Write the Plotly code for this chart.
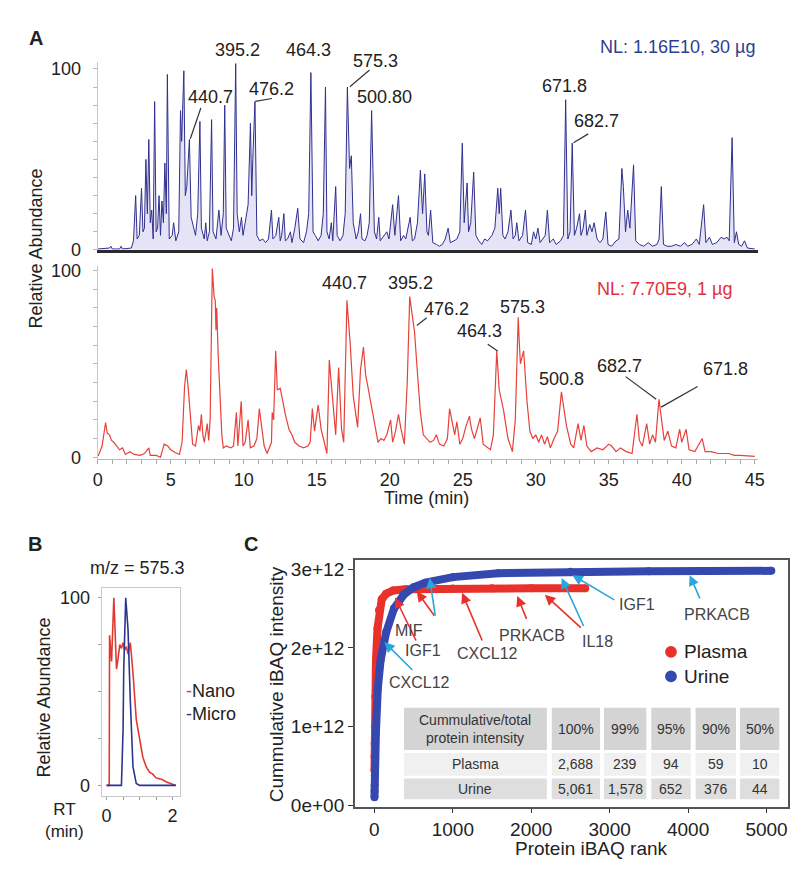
import plotly.graph_objects as go

W, H = 800, 873
FONT = "Liberation Sans, Arial, sans-serif"

# ---------------- DATA ----------------
# Panel A (top): base-peak chromatogram, 30 ug (time min, relative abundance %)
micro_points = [
    (0.0, 0.5), (0.8, 1), (0.9, 2), (1.0, 0.5), (1.5, 0.5), (1.6, 2), (1.7, 0.5), (2.3, 1), (2.45, 5),
    (2.6, 30), (2.7, 6), (2.85, 8), (3.0, 34), (3.1, 10), (3.2, 12), (3.3, 50), (3.4, 20), (3.5, 61),
    (3.6, 15), (3.7, 22), (3.8, 6), (3.9, 82), (4.0, 10), (4.1, 12), (4.2, 30), (4.3, 8), (4.4, 27),
    (4.5, 15), (4.6, 48), (4.7, 20), (4.77, 97), (4.9, 6), (5.1, 8), (5.2, 15), (5.35, 5), (5.55, 10),
    (5.67, 77), (5.75, 60), (5.9, 99), (6.0, 30), (6.1, 35), (6.28, 61), (6.4, 18), (6.6, 10), (6.7, 8),
    (6.85, 20), (7.0, 71), (7.1, 12), (7.3, 6), (7.4, 15), (7.5, 5), (7.65, 10), (7.8, 72), (7.9, 10),
    (8.1, 6), (8.3, 22), (8.45, 8), (8.6, 20), (8.7, 80), (8.8, 12), (9.0, 8), (9.15, 5), (9.3, 12),
    (9.45, 103), (9.55, 20), (9.7, 10), (9.85, 18), (9.95, 8), (10.1, 15), (10.3, 25), (10.46, 70),
    (10.55, 30), (10.62, 50), (10.77, 82), (10.9, 8), (11.1, 5), (11.3, 6), (11.5, 4), (11.7, 6),
    (11.9, 22), (12.0, 6), (12.2, 8), (12.4, 18), (12.5, 5), (12.6, 8), (12.75, 20), (12.85, 5),
    (13.0, 6), (13.2, 10), (13.3, 4), (13.5, 12), (13.7, 23), (13.85, 6), (14.1, 4), (14.3, 10),
    (14.45, 20), (14.6, 98), (14.75, 10), (14.9, 8), (15.1, 5), (15.3, 8), (15.45, 20), (15.6, 90),
    (15.7, 10), (15.85, 6), (16.0, 15), (16.1, 5), (16.3, 35), (16.4, 8), (16.6, 5), (16.8, 8),
    (16.95, 20), (17.1, 90), (17.25, 45), (17.37, 52), (17.5, 15), (17.7, 6), (17.85, 10), (18.0, 20),
    (18.1, 6), (18.3, 5), (18.45, 8), (18.6, 15), (18.76, 77), (18.85, 45), (18.95, 10), (19.1, 6),
    (19.25, 18), (19.35, 5), (19.6, 8), (19.8, 10), (19.95, 6), (20.2, 25), (20.35, 8), (20.6, 30),
    (20.75, 5), (20.95, 8), (21.1, 6), (21.4, 18), (21.55, 5), (21.7, 6), (21.9, 15), (22.1, 44),
    (22.25, 20), (22.4, 42), (22.55, 10), (22.65, 8), (22.8, 22), (22.95, 4), (23.2, 3), (23.4, 2),
    (23.6, 3), (23.8, 6), (24.0, 12), (24.15, 4), (24.4, 5), (24.6, 6), (24.8, 10), (24.97, 59),
    (25.1, 15), (25.3, 37), (25.4, 10), (25.55, 15), (25.75, 43), (25.9, 8), (26.1, 5), (26.3, 3),
    (26.5, 6), (26.7, 5), (27.0, 8), (27.2, 12), (27.4, 34), (27.5, 20), (27.6, 34), (27.75, 8),
    (27.9, 6), (28.1, 10), (28.3, 22), (28.45, 6), (28.6, 8), (28.7, 15), (28.85, 5), (29.1, 8),
    (29.3, 22), (29.45, 4), (29.7, 3), (29.85, 10), (30.0, 6), (30.15, 12), (30.3, 4), (30.5, 6),
    (30.65, 8), (30.8, 22), (30.95, 4), (31.2, 6), (31.4, 3), (31.7, 5), (31.9, 8), (32.05, 83),
    (32.2, 6), (32.35, 10), (32.5, 59), (32.65, 8), (32.8, 12), (33.0, 20), (33.1, 8), (33.25, 12),
    (33.4, 22), (33.5, 8), (33.7, 14), (33.85, 10), (34.0, 15), (34.2, 6), (34.4, 4), (34.6, 6),
    (34.8, 21), (34.95, 3), (35.2, 2), (35.5, 5), (35.7, 6), (35.9, 45), (36.0, 35), (36.15, 10),
    (36.3, 22), (36.45, 12), (36.7, 47), (36.85, 5), (37.1, 3), (37.4, 2), (37.7, 4), (38.0, 2),
    (38.3, 3), (38.45, 6), (38.6, 35), (38.75, 3), (39.0, 2), (39.3, 2), (39.6, 3), (39.9, 2),
    (40.2, 4), (40.4, 2), (40.7, 3), (41.0, 6), (41.2, 3), (41.5, 25), (41.65, 4), (41.9, 7),
    (42.1, 3), (42.4, 4), (42.7, 7), (42.9, 6), (43.1, 7), (43.25, 5), (43.45, 62), (43.6, 4),
    (43.75, 10), (43.9, 3), (44.1, 2), (44.3, 5), (44.5, 1), (45.0, 0.5),
]
# Panel A (bottom): base-peak chromatogram, 1 ug
nano_points = [
    (0.0, 1), (0.05, 1), (0.3, 6), (0.54, 18.6), (0.65, 13), (0.8, 12), (0.95, 9), (1.1, 8), (1.3, 6),
    (1.5, 4), (1.7, 5), (1.9, 1.5), (2.2, 3), (2.5, 1.5), (2.9, 1), (3.2, 2), (3.5, 5), (3.6, 1),
    (4.0, 1), (4.3, 0), (4.55, 7), (4.8, 6), (5.0, 4), (5.3, 2.5), (5.6, 1.5), (5.78, 8), (5.95, 38),
    (6.07, 47), (6.2, 37), (6.35, 20), (6.5, 7), (6.7, 6), (6.9, 17), (7.0, 14), (7.1, 23), (7.2, 12),
    (7.3, 8), (7.5, 18), (7.6, 9), (7.7, 20), (7.85, 101), (7.97, 86), (8.05, 84), (8.1, 68),
    (8.15, 80), (8.25, 55), (8.37, 33), (8.5, 12), (8.6, 5), (8.8, 6), (9.1, 5), (9.3, 6), (9.5, 24),
    (9.6, 6), (9.83, 30), (9.95, 6), (10.1, 8), (10.3, 20), (10.45, 5), (10.7, 6), (10.9, 10),
    (11.07, 26), (11.2, 18), (11.4, 6), (11.6, 2), (11.9, 8), (11.95, 24), (12.05, 20), (12.19, 57),
    (12.3, 36), (12.5, 37), (12.7, 28), (12.85, 23), (13.1, 15), (13.3, 12), (13.5, 8), (13.8, 6),
    (14.1, 5), (14.4, 6), (14.55, 8), (14.7, 26), (14.85, 14), (15.1, 28), (15.3, 15), (15.5, 8),
    (15.7, 2), (15.86, 52), (16.1, 31), (16.3, 12), (16.5, 48), (16.7, 15), (16.85, 8), (17.07, 84),
    (17.3, 60), (17.5, 33), (17.8, 16), (18.0, 47), (18.2, 59), (18.35, 44), (18.5, 38), (18.7, 30),
    (19.0, 16), (19.2, 8), (19.4, 10), (19.6, 9), (19.8, 12), (20.06, 20), (20.2, 8), (20.4, 14),
    (20.6, 23), (20.75, 16), (21.0, 7), (21.2, 40), (21.37, 86), (21.5, 78), (21.7, 67), (21.9, 45),
    (22.1, 24), (22.3, 12), (22.5, 10), (22.76, 8), (23.0, 9), (23.2, 12), (23.4, 7), (23.7, 6),
    (23.95, 10), (24.1, 26), (24.3, 18), (24.45, 12), (24.6, 19), (24.8, 7), (25.0, 10), (25.2, 16),
    (25.46, 22), (25.6, 15), (25.8, 10), (26.0, 16), (26.2, 21), (26.4, 7), (26.7, 5), (26.9, 4),
    (27.1, 12), (27.33, 57), (27.5, 36), (27.8, 25), (28.1, 10), (28.4, 3), (28.6, 20), (28.8, 75),
    (28.87, 62), (28.95, 50), (29.17, 57), (29.4, 30), (29.6, 14), (29.8, 10), (30.0, 12), (30.2, 8),
    (30.4, 12), (30.6, 7), (30.8, 11), (31.0, 5), (31.2, 9), (31.5, 14), (31.76, 35), (32.1, 17),
    (32.4, 7), (32.6, 5), (32.9, 18), (33.1, 9), (33.3, 17), (33.5, 6), (33.8, 3), (34.2, 5),
    (34.6, 4), (35.0, 7), (35.2, 6), (35.5, 3), (35.8, 5), (36.2, 3), (36.6, 2), (36.93, 23),
    (37.1, 9), (37.3, 6), (37.6, 18), (37.8, 7), (38.0, 12), (38.2, 8), (38.44, 31), (38.6, 22),
    (38.8, 9), (39.05, 14), (39.3, 6), (39.6, 5), (39.86, 15), (40.0, 8), (40.3, 15), (40.5, 4),
    (40.9, 3), (41.4, 10), (41.6, 3), (42.0, 3), (42.5, 2), (43.2, 2), (43.6, 1), (44.0, 1), (45.0, 0.5),
]
micro_time = [p[0] for p in micro_points]
micro_abund = [p[1] for p in micro_points]
nano_time = [p[0] for p in nano_points]
nano_abund = [p[1] for p in nano_points]

# Panel B: extracted ion chromatogram m/z 575.3 (RT min, relative abundance %)
xic_nano_rt = [0.0, 0.08, 0.09, 0.12, 0.15, 0.22, 0.27, 0.3, 0.35, 0.4, 0.45, 0.5, 0.55, 0.6, 0.65,
               0.72, 0.8, 0.85, 0.9, 0.97, 1.05, 1.1, 1.2, 1.3, 1.4, 1.5, 1.6, 1.7, 1.8, 1.95, 2.1]
xic_nano_ab = [0, 0, 80, 72, 66, 100, 70, 62, 68, 75, 73, 76, 72, 74, 70,
               76, 60, 45, 35, 28, 20, 15, 10, 7, 6, 4, 3.5, 3, 2, 1, 0]
xic_micro_rt = [0.0, 0.45, 0.5, 0.52, 0.58, 0.65, 0.72, 0.8, 0.9, 1.0, 2.1]
xic_micro_ab = [0, 0, 30, 62, 100, 83, 45, 10, 1, 0, 0]

# Panel C: cumulative iBAQ intensity vs protein rank
plasma_rank = [1, 2, 3, 5, 10, 20, 40, 59, 94, 150, 239, 400, 700, 1000, 1500, 2000, 2688]
plasma_cum = [0.44e12, 0.62e12, 0.78e12, 1.0e12, 1.38e12, 1.85e12, 2.25e12, 2.48e12, 2.62e12,
              2.69e12, 2.73e12, 2.745e12, 2.752e12, 2.755e12, 2.758e12, 2.759e12, 2.76e12]
urine_rank = [1, 2, 3, 5, 10, 20, 44, 80, 150, 250, 376, 500, 652, 1000, 1578, 2500, 3500, 5061]
urine_cum = [0.1e12, 0.18e12, 0.25e12, 0.38e12, 0.6e12, 0.95e12, 1.49e12, 1.85e12, 2.2e12, 2.5e12,
             2.68e12, 2.77e12, 2.83e12, 2.9e12, 2.95e12, 2.97e12, 2.975e12, 2.98e12]

table_header = ["Cummulative/total<br>protein intensity", "100%", "99%", "95%", "90%", "50%"]
table_plasma = ["Plasma", "2,688", "239", "94", "59", "10"]
table_urine = ["Urine", "5,061", "1,578", "652", "376", "44"]

# ---------------- FIGURE ----------------
RED = "#e8403a"
BLUE = "#2f2f8f"
C_RED = "#e8312a"
C_BLUE = "#3548b0"
CYAN = "#2aa6df"


def px(x):
    return x / W


def py(y):
    return 1 - y / H


fig = go.Figure()

fig.add_trace(go.Scatter(x=micro_time, y=micro_abund, mode="lines", xaxis="x", yaxis="y",
                         line=dict(color=BLUE, width=1), fill="tozeroy",
                         fillcolor="rgba(120,120,210,0.2)", showlegend=False))
fig.add_trace(go.Scatter(x=nano_time, y=nano_abund, mode="lines", xaxis="x2", yaxis="y2",
                         line=dict(color=RED, width=1.2), showlegend=False))
fig.add_trace(go.Scatter(x=xic_nano_rt, y=xic_nano_ab, mode="lines", xaxis="x3", yaxis="y3",
                         line=dict(color="#e03a30", width=1.6), showlegend=False))
fig.add_trace(go.Scatter(x=xic_micro_rt, y=xic_micro_ab, mode="lines", xaxis="x3", yaxis="y3",
                         line=dict(color="#2b358f", width=1.6), showlegend=False))
fig.add_trace(go.Scatter(x=plasma_rank, y=plasma_cum, mode="lines+markers", xaxis="x4", yaxis="y4",
                         line=dict(color=C_RED, width=8), marker=dict(color=C_RED, size=8),
                         showlegend=False))
fig.add_trace(go.Scatter(x=urine_rank, y=urine_cum, mode="lines+markers", xaxis="x4", yaxis="y4",
                         line=dict(color=C_BLUE, width=8), marker=dict(color=C_BLUE, size=8),
                         showlegend=False))

tick18 = dict(size=18, color="#222", family=FONT)
tick19 = dict(size=19, color="#222", family=FONT)

fig.update_layout(
    width=W, height=H, margin=dict(l=0, r=0, t=0, b=0),
    paper_bgcolor="white", plot_bgcolor="white",
    font=dict(family=FONT, color="#222"),
    xaxis=dict(domain=[px(86), px(756)], range=[0, 45.2], anchor="y", showticklabels=False,
               ticks="", showline=True, linecolor="#2a2a2a", linewidth=2.5, showgrid=False,
               zeroline=False),
    yaxis=dict(domain=[py(241), py(49.6)], range=[0, 104], anchor="x", tickmode="array",
               tickvals=list(range(0, 101, 10)), ticktext=["0"] + [""] * 9 + ["100"],
               ticks="outside", ticklen=4, tickcolor="#bbb", showline=True, linecolor="#c8c8c8",
               linewidth=1, showgrid=False, zeroline=False, tickfont=tick18, ticklabelstandoff=8),
    xaxis2=dict(domain=[px(86), px(756)], range=[0, 45.2], anchor="y2", tickmode="array",
                tickvals=list(range(0, 46)),
                ticktext=[str(v) if v % 5 == 0 else "" for v in range(0, 46)],
                ticks="outside", ticklen=4, tickcolor="#aaa", showline=True, linecolor="#b8b8b8",
                linewidth=1, showgrid=False, zeroline=False, tickfont=tick18),
    yaxis2=dict(domain=[py(453.9), py(257.25)], range=[-1, 102.5], anchor="x2", tickmode="array",
                tickvals=list(range(0, 101, 10)), ticktext=["0"] + [""] * 9 + ["100"],
                ticks="outside", ticklen=4, tickcolor="#bbb", showline=True, linecolor="#c8c8c8",
                linewidth=1, showgrid=False, zeroline=False, tickfont=tick18, ticklabelstandoff=8),
    xaxis3=dict(domain=[px(90), px(170)], range=[-0.15, 2.24], anchor="y3", tickmode="array",
                tickvals=[0, 0.5, 1, 1.5, 2], ticktext=["0", "", "", "", "2"], ticks="outside",
                ticklen=3, tickcolor="#999", showline=True, mirror=True, linecolor="#c8c8c8",
                showgrid=False, zeroline=False, tickfont=tick18),
    yaxis3=dict(domain=[py(797), py(585)], range=[-5.8, 105.2], anchor="x3", tickmode="array",
                tickvals=[0, 25, 50, 75, 100], ticktext=["0", "", "", "", "100"], ticks="outside",
                ticklen=3, tickcolor="#999", showline=True, mirror=True, linecolor="#c8c8c8",
                showgrid=False, zeroline=False, tickfont=tick18, ticklabelstandoff=4),
    xaxis4=dict(domain=[px(347), px(787)], range=[-250, 5276], anchor="y4", tickmode="array",
                tickvals=[0, 1000, 2000, 3000, 4000, 5000], ticks="outside", ticklen=4,
                tickcolor="#333", showline=True, mirror=True, linecolor="#555", linewidth=1.5,
                showgrid=False, zeroline=False, tickfont=tick19),
    yaxis4=dict(domain=[py(808), py(557)], range=[-0.025e12, 3.1125e12], anchor="x4",
                tickmode="array", tickvals=[0, 1e12, 2e12, 3e12],
                ticktext=["0e+00", "1e+12", "2e+12", "3e+12"], ticks="outside", ticklen=5,
                tickcolor="#333", showline=True, mirror=True, linecolor="#555", linewidth=1.5,
                showgrid=False, zeroline=False, tickfont=tick19),
)

ann = []
shapes = []


def txt(x, y, s, size=18, color="#222", xanchor="center", angle=0, bold=False):
    if bold:
        s = "<b>" + s + "</b>"
    ann.append(dict(x=px(x), y=py(y), xref="paper", yref="paper", text=s, showarrow=False,
                    xanchor=xanchor, yanchor="middle", textangle=angle,
                    font=dict(size=size, color=color, family=FONT)))


def leader(x0, y0, x1, y1, color="#333"):
    shapes.append(dict(type="line", xref="paper", yref="paper", x0=px(x0), y0=py(y0),
                       x1=px(x1), y1=py(y1), line=dict(color=color, width=1.2)))


# Panel letters and axis titles
txt(23, 25, "A", size=20, bold=True)
txt(23, 240, "Relative Abundance", size=18, angle=-90)
txt(420, 493, "Time (min)", size=18)
txt(22, 540, "B", size=20, bold=True)
txt(242, 540, "C", size=20, bold=True)
txt(126, 565, "m/z = 575.3", size=18)
txt(32, 697, "Relative Abundance", size=18, angle=-90)
txt(52, 822, "RT<br>(min)", size=17)
txt(174, 690, "<span style='color:#e03a30'>-</span>Nano", size=18, xanchor="left")
txt(174, 713, "<span style='color:#2b358f'>-</span>Micro", size=18, xanchor="left")
txt(267, 683, "Cummulative iBAQ intensity", size=19, angle=-90)
txt(587, 850, "Protein iBAQ rank", size=19)

# Panel A top peak labels
txt(200, 85, "440.7")
txt(228, 38, "395.2")
txt(262, 77, "476.2")
txt(300, 38, "464.3")
txt(368, 49, "575.3")
txt(377, 85, "500.80")
txt(560, 74, "671.8")
txt(592, 110, "682.7")
txt(755, 35, "NL: 1.16E10, 30 µg", color="#2e3f8f", xanchor="right")
leader(180, 128, 190.7, 96.7)
leader(246, 90, 263, 87)
leader(342, 75, 362, 58)
leader(569, 132, 584, 123)

# Panel A bottom peak labels
txt(337, 275, "440.7")
txt(404, 275, "395.2")
txt(440, 301, "476.2")
txt(474, 324, "464.3")
txt(517, 299, "575.3")
txt(557, 372, "500.8")
txt(616, 359, "682.7")
txt(723, 362, "671.8")
txt(732, 281, "NL: 7.70E9, 1 µg", color="#e03040", xanchor="right")
leader(410, 318, 420, 310)
leader(482, 337, 492, 344)
leader(622, 370, 653, 393)
leader(695, 380, 658, 401)


# Panel C arrows (head x,y ; tail ax,ay) in data coords
def arrow(x, y, axv, ayv, color):
    ann.append(dict(x=x, y=y, ax=axv, ay=ayv, xref="x4", yref="y4", axref="x4", ayref="y4",
                    text="", showarrow=True, arrowhead=2, arrowsize=1.3, arrowwidth=1.6,
                    arrowcolor=color))


arrow(126, 2.075e12, 503, 1.7e12, CYAN)
arrow(264, 2.64e12, 540, 2.075e12, C_RED)
arrow(540, 2.72e12, 779, 2.39e12, C_RED)
arrow(704, 2.89e12, 779, 2.39e12, CYAN)
arrow(1118, 2.70e12, 1382, 2.075e12, C_RED)
arrow(1822, 2.66e12, 1947, 2.35e12, C_RED)
arrow(2173, 2.675e12, 2651, 2.24e12, C_RED)
arrow(2387, 2.89e12, 2676, 2.26e12, CYAN)
arrow(2525, 2.925e12, 3078, 2.6e12, CYAN)
arrow(4020, 2.925e12, 4158, 2.61e12, CYAN)

GRAY = "#444"
txt(413, 681, "CXCL12", size=16, color=GRAY)
txt(416, 649, "IGF1", size=16, color=GRAY)
txt(402, 628, "MIF", size=16, color=GRAY)
txt(482, 652, "CXCL12", size=16, color=GRAY)
txt(527, 633, "PRKACB", size=16, color=GRAY)
txt(593, 639, "IL18", size=16, color=GRAY)
txt(634, 602, "IGF1", size=16, color=GRAY)
txt(715, 612, "PRKACB", size=16, color=GRAY)

# Panel C legend
for cy, col, name in [(650, C_RED, "Plasma"), (675, C_BLUE, "Urine")]:
    shapes.append(dict(type="circle", xref="paper", yref="paper", x0=px(662), x1=px(674),
                       y0=py(cy + 6), y1=py(cy - 6), fillcolor=col, line=dict(width=0)))
    txt(679, cy, name, size=19, xanchor="left")

# Panel C table
col_edges = [(397, 542), (547, 596), (600, 643), (648, 688), (693, 734), (738, 778)]
rows = [((707, 750), "#d4d4d4", table_header), ((753, 776), "#f0f0f0", table_plasma),
        ((779, 800), "#dedede", table_urine)]
for (y0, y1), fill, values in rows:
    for (x0, x1), val in zip(col_edges, values):
        shapes.append(dict(type="rect", xref="paper", yref="paper", x0=px(x0), x1=px(x1),
                           y0=py(y1), y1=py(y0), fillcolor=fill, line=dict(width=0),
                           layer="below"))
        txt((x0 + x1) / 2, (y0 + y1) / 2, val, size=14, color="#333")

fig.update_layout(annotations=ann, shapes=shapes)
fig.write_html("out.html")
